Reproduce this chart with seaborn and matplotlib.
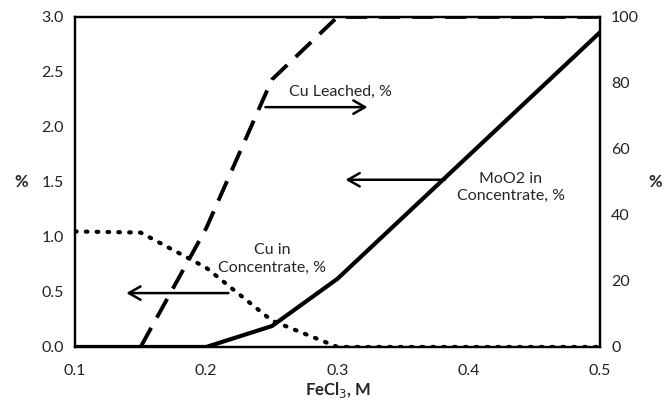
import matplotlib
matplotlib.use("Agg")
import matplotlib.pyplot as plt
import seaborn as sns
import pandas as pd

# FeCl3 concentration, M
fecl3 = [0.1, 0.15, 0.2, 0.25, 0.3, 0.4, 0.5]
# left axis, %
moo2_conc = [0.0, 0.0, 0.0, 0.19, 0.62, 1.74, 2.86]
cu_conc = [1.05, 1.04, 0.72, 0.24, 0.0, 0.0, 0.0]
# right axis, %
cu_leached = [0.0, 0.0, 36.0, 81.0, 100.0, 100.0, 100.0]

df = pd.DataFrame({"FeCl3": fecl3, "MoO2": moo2_conc, "CuConc": cu_conc,
                   "CuLeached": cu_leached})

sns.set_theme(style="white")
plt.rcParams["font.family"] = ["Lato", "DejaVu Sans"]

fig = plt.figure(figsize=(6.66, 4.03), dpi=100)
ax = fig.add_axes([0.1126, 0.139, 0.7883, 0.819])
ax2 = ax.twinx()

sns.lineplot(data=df, x="FeCl3", y="MoO2", ax=ax, color="black", lw=3.0)
sns.lineplot(data=df, x="FeCl3", y="CuConc", ax=ax, color="black", lw=3.0,
             linestyle=(0, (0.4, 2.2)), dash_capstyle="round")
sns.lineplot(data=df, x="FeCl3", y="CuLeached", ax=ax2, color="black", lw=2.8,
             linestyle=(0, (5.5, 3)))

ax.set_xlim(0.1, 0.5)
ax.set_ylim(0, 3.0)
ax2.set_ylim(0, 100)
ax.set_xticks([0.1, 0.2, 0.3, 0.4, 0.5])
ax.set_xticklabels(["0.1", "0.2", "0.3", "0.4", "0.5"])
ax.set_yticks([0, 0.5, 1.0, 1.5, 2.0, 2.5, 3.0])
ax.set_yticklabels(["0.0", "0.5", "1.0", "1.5", "2.0", "2.5", "3.0"])
ax2.set_yticks([0, 20, 40, 60, 80, 100])

for a in (ax, ax2):
    a.tick_params(length=0, labelsize=11.5, pad=8, colors="#222222")
    for s in a.spines.values():
        s.set_color("black")
        s.set_linewidth(1.6)
ax.tick_params(axis="x", pad=12)

ax.set_xlabel(r"FeCl$_3$, M", fontsize=12, fontweight="bold", labelpad=2)
ax.set_ylabel("%", fontsize=12, fontweight="bold", rotation=0, va="center")
ax2.set_ylabel("%", fontsize=12, fontweight="bold", rotation=0, va="center")
ax.yaxis.set_label_coords(-0.103, 0.5)
ax2.yaxis.set_label_coords(1.105, 0.5)

arrow = dict(arrowstyle="->,head_length=0.7,head_width=0.4", color="black", lw=1.8)
ax.annotate("", xy=(0.325, 2.18), xytext=(0.243, 2.18), arrowprops=arrow)
ax.annotate("", xy=(0.304, 1.52), xytext=(0.384, 1.52), arrowprops=arrow)
ax.annotate("", xy=(0.137, 0.49), xytext=(0.219, 0.49), arrowprops=arrow)

ax.text(0.302, 2.32, "Cu Leached, %", ha="center", va="center", fontsize=11.5)
ax.text(0.432, 1.45, "MoO2 in\nConcentrate, %", ha="center", va="center",
        fontsize=11.5, linespacing=1.3)
ax.text(0.25, 0.80, "Cu in\nConcentrate, %", ha="center", va="center",
        fontsize=11.5, linespacing=1.3)

fig.savefig("out.png", dpi=100)
